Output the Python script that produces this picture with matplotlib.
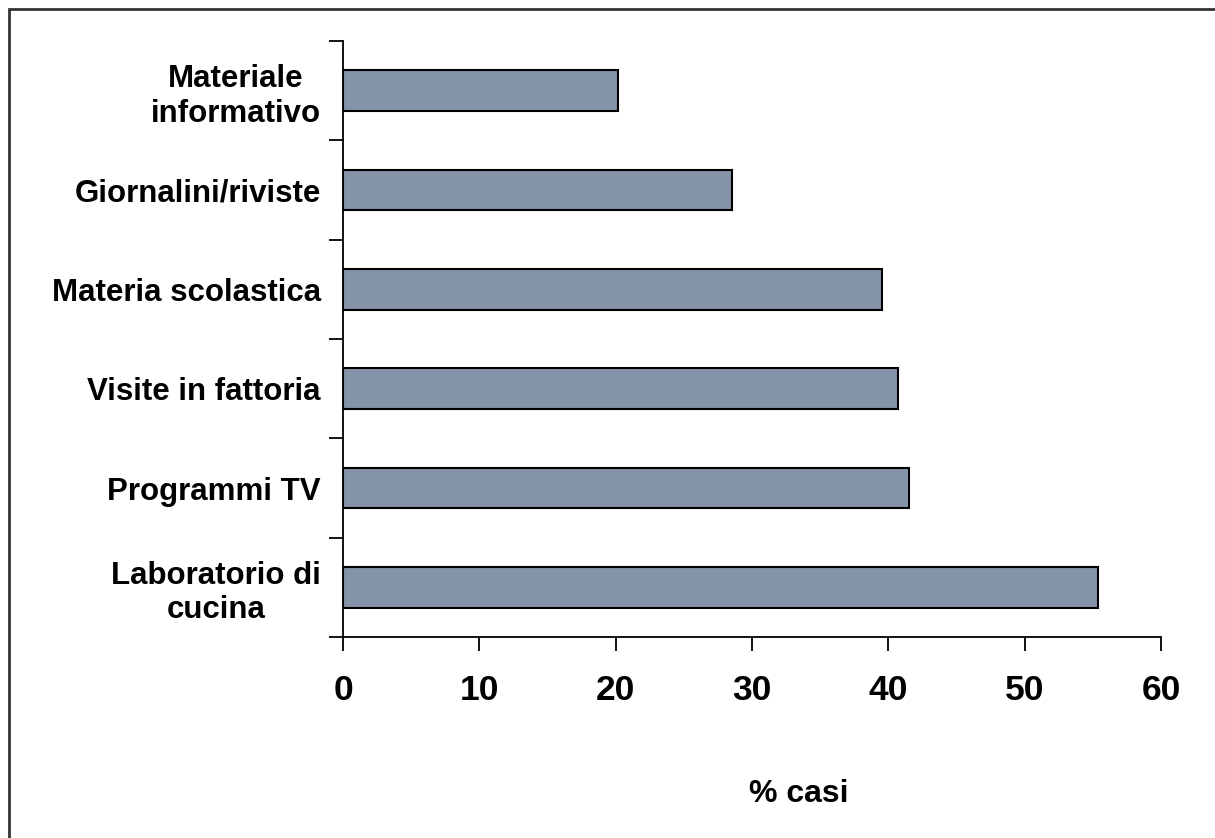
import matplotlib
matplotlib.use("Agg")
import matplotlib.pyplot as plt
from matplotlib.patches import Rectangle

categories = ["Laboratorio di\ncucina", "Programmi TV", "Visite in fattoria",
              "Materia scolastica", "Giornalini/riviste", "Materiale\ninformativo"]
values = [55.4, 41.5, 40.7, 39.5, 28.5, 20.2]
xticks = [0, 10, 20, 30, 40, 50, 60]

plt.rcParams['font.family'] = ['Liberation Sans', 'DejaVu Sans']

W, H = 1215, 838
fig = plt.figure(figsize=(W / 100, H / 100), dpi=100)
ax = fig.add_axes([343 / W, 1 - 637 / H, (1161 - 343) / W, (637 - 41) / H])

pos = list(range(len(categories)))
ax.barh(pos, values, height=0.41, color="#8593A8", edgecolor="black", linewidth=1.5)

ax.set_xlim(0, 60)
ax.set_ylim(-0.5, len(categories) - 0.5)
ax.set_xticks(xticks)
ax.set_xticklabels([str(t) for t in xticks], fontsize=25.5, fontweight='bold')
ax.set_yticks([p - 0.5 for p in pos] + [len(categories) - 0.5])
ax.set_yticklabels([])
ax.set_yticks(pos, minor=True)
ax.set_yticklabels(categories, minor=True, fontsize=22.5, fontweight='bold',
                   multialignment='center', linespacing=1.2)
ax.tick_params(axis='y', which='minor', length=0, pad=16)
ax.tick_params(axis='y', which='major', length=10, width=1.3, direction='out')
ax.tick_params(axis='x', length=10, width=1.3, direction='out', pad=17)

for s in ['top', 'right']:
    ax.spines[s].set_visible(False)
for s in ['left', 'bottom']:
    ax.spines[s].set_linewidth(1.3)

fig.text(799 / W, 1 - 794 / H, "% casi", fontsize=23, fontweight='bold',
         ha='center', va='center')

fig.patches.append(Rectangle((9 / W, -0.1), 1.2, 1 - 9 / H + 0.1,
                             transform=fig.transFigure, fill=False,
                             edgecolor='#333333', linewidth=2))

fig.savefig("out.png", dpi=100, facecolor='white')
